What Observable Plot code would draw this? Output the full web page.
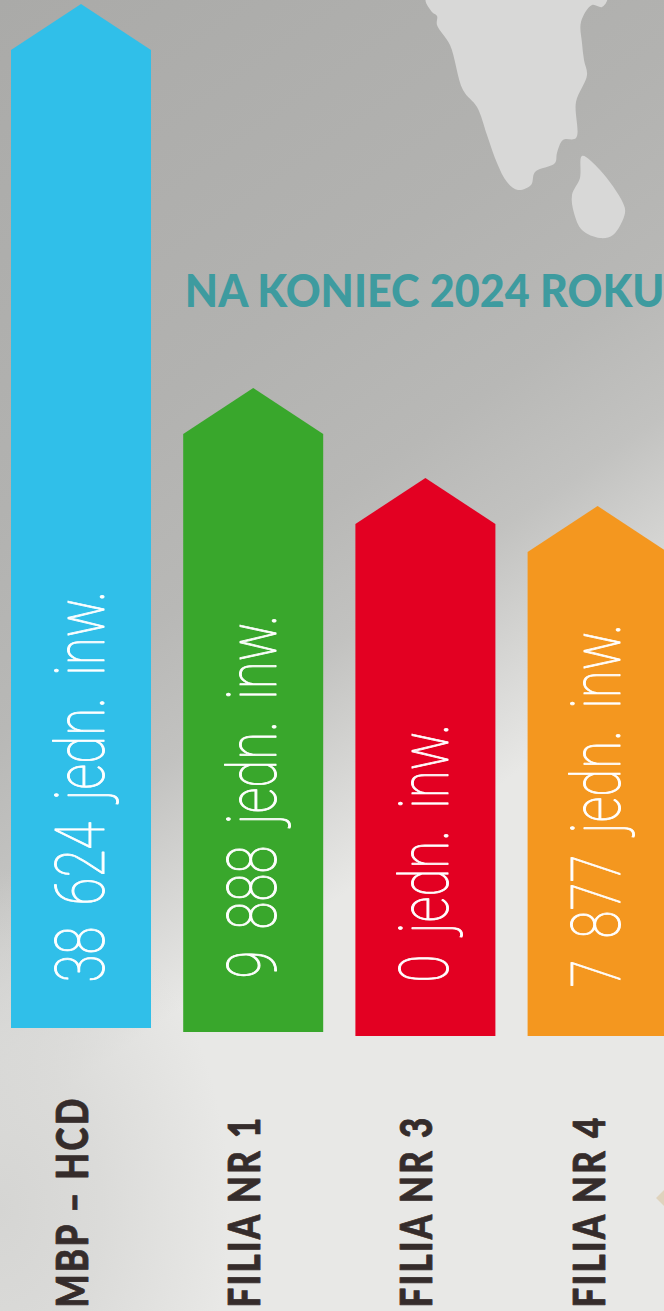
<!DOCTYPE html>
<html lang="pl">
<head>
<meta charset="utf-8">
<script src="https://cdn.jsdelivr.net/npm/d3@7"></script>
<script src="https://cdn.jsdelivr.net/npm/@observablehq/plot@0.6"></script>
<style>
html,body{margin:0;padding:0;width:664px;height:1311px;overflow:hidden}
#stage{position:relative;width:664px;height:1311px;overflow:hidden;
background:
 radial-gradient(ellipse 230px 340px at 0 1210px,rgba(212,212,210,.95) 0,rgba(216,216,214,.8) 45%,rgba(232,232,230,0) 100%),
 linear-gradient(145deg,#aaaaa8 0,#b2b2b0 420px,#b8b8b6 600px,#c2c2c0 720px,#d6d6d4 830px,#e8e8e6 930px,#e8e8e6 100%);}
#stage svg{position:absolute;left:0;top:0;display:block}
</style>
</head>
<body>
<div id="stage">
<svg id="decor" width="664" height="1311" aria-hidden="true"></svg>
</div>
<script>
const title = "NA KONIEC 2024 ROKU";
const categories = ["MBP – HCD", "FILIA NR 1", "FILIA NR 3", "FILIA NR 4"];
const values = [38624, 9888, 0, 7877];
const unit = "jedn. inw.";
const colors = ["#30bfe9", "#39a72c", "#e30022", "#f4971f"];
const arrowTip = [1307, 923, 833, 805];
const arrowFoot = [283, 279, 275, 275];

const W = 664, H = 1311;
const fmt = d3.formatLocale({thousands: "\u00a0", grouping: [3], decimal: ","}).format(",d");
const labelLevel = [329, 333, 329, 324];
const rows = categories.map((name, i) => ({
  i, name, value: values[i], color: colors[i], tip: arrowTip[i], foot: arrowFoot[i],
  label: `${fmt(values[i])} ${unit}`, level: labelLevel[i]
}));
const halfWidth = 0.4065, headDrop = 46;
const arrows = rows.flatMap(r => [
  {...r, px: r.i - halfWidth, top: r.tip - headDrop},
  {...r, px: r.i, top: r.tip},
  {...r, px: r.i + halfWidth, top: r.tip - headDrop}
]);

// Decorative land shapes behind the chart (not data)
const land = [
  [[426,-2],[432,12],[437,16],[437,25],[450,45],[463,90],[477,107],[487,135],[497,163],[507,182],[518,190],[531,185],[535,172],[555,163],[557,153],[563,140],[576,138],[576,102],[587,75],[584,60],[582,43],[581,22],[592,5],[602,7],[607,-2]],
  [[582,156],[600,170],[623,203],[625,213],[613,235],[600,238],[582,230],[574,213],[572,195],[580,178]]
];
const decor = d3.select("#decor");
decor.selectAll("path.l").data(land).join("path").attr("class","l")
  .attr("d", d3.line().curve(d3.curveCatmullRomClosed.alpha(0.5))).attr("fill", "#d8d8d7");
decor.append("path").attr("d","M664 1190 L656 1198 L664 1206 Z").attr("fill","#dfd3bd");

const chart = Plot.plot({
  width: W, height: H,
  margin: 0,
  style: {background: "transparent", overflow: "hidden"},
  x: {axis: null, domain: [(0 - 81) / 172.2, (664 - 81) / 172.2], range: [0, W]},
  y: {axis: null, domain: [0, H], range: [H, 0]},
  marks: [
    Plot.areaY(arrows, {x: "px", y1: "foot", y2: "top", z: "i", fill: "color"}),
    Plot.text(rows, {
      x: "i", y: "level", text: "label", rotate: -90, dx: 22,
      textAnchor: "start", lineAnchor: "bottom", fill: "#fff", stroke: "#fff", strokeWidth: 1,
      fontFamily: "Roboto", fontWeight: 100, fontSize: 68, className: "vlabel"
    }),
    Plot.text(rows, {
      x: "i", y: 4, text: "name", rotate: -90, dx: 6.5,
      textAnchor: "start", lineAnchor: "bottom", fill: "#352c2b", stroke: "#352c2b", strokeWidth: 0.8,
      fontFamily: "Lato", fontWeight: 900, fontSize: 44, className: "clabel"
    }),
    Plot.text([title], {
      x: [0.6], y: [1019], text: d => d,
      textAnchor: "start", lineAnchor: "middle", fill: "#3e9b9f",
      fontFamily: "Lato", fontWeight: 900, fontSize: 46, className: "tlabel"
    })
  ]
});
document.getElementById("stage").appendChild(chart);

// Fonts installed here are wider than the originals: condense each class to match
const squeeze = {
  vlabel: {k: 0.75, word: "12px"},
  clabel: {k: 0.79, spacing: "3px"},
  tlabel: {k: 0.937}
};
for (const [cls, o] of Object.entries(squeeze)) {
  chart.querySelectorAll(`.${cls} text`).forEach(t => {
    if (o.word) t.style.wordSpacing = o.word;
    if (o.spacing) t.style.letterSpacing = o.spacing;
    t.setAttribute("textLength", t.getComputedTextLength() * o.k);
    t.setAttribute("lengthAdjust", "spacingAndGlyphs");
  });
}
</script>
</body>
</html>
